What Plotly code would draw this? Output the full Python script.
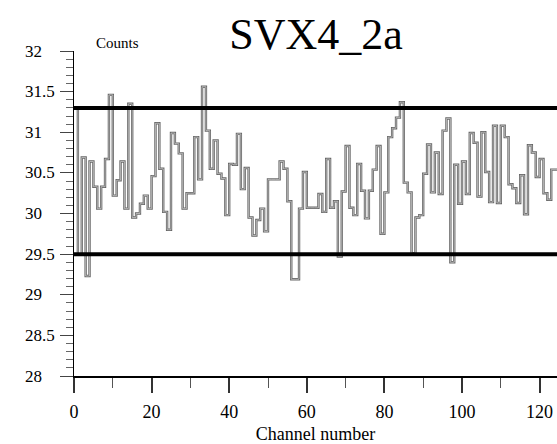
import numpy as np
import plotly.graph_objects as go

counts = [31.30, 29.50, 30.69, 29.23, 30.64, 30.33, 30.06, 30.33, 30.67, 31.46,
          30.22, 30.41, 30.64, 30.06, 31.35, 29.95, 30.00, 30.12, 30.22, 30.06,
          30.46, 31.11, 30.55, 30.02, 29.80, 30.99, 30.86, 30.74, 30.06, 30.25,
          30.25, 30.94, 30.42, 31.56, 31.02, 30.55, 30.90, 30.49, 30.43, 29.98,
          30.61, 30.60, 30.98, 30.30, 30.56, 29.95, 29.73, 29.92, 30.06, 29.78,
          30.42, 30.42, 30.42, 30.64, 30.55, 30.15, 29.19, 29.19, 30.06, 30.51,
          30.07, 30.07, 30.07, 30.24, 30.02, 30.67, 30.07, 30.15, 29.47, 30.27,
          30.83, 30.07, 29.98, 30.61, 30.28, 29.94, 30.28, 30.54, 30.83, 29.75,
          30.26, 30.94, 31.05, 31.18, 31.37, 30.38, 30.26, 29.51, 29.95, 29.98,
          30.49, 30.85, 30.26, 30.75, 30.24, 31.02, 31.17, 29.40, 30.60, 30.12,
          30.64, 30.24, 30.99, 30.87, 30.21, 31.00, 30.51, 30.14, 31.08, 30.13,
          31.08, 30.94, 30.36, 30.31, 30.13, 30.47, 29.99, 30.84, 30.75, 30.45,
          30.67, 30.25, 30.17, 30.54, 30.54]
channels = list(range(len(counts) + 1))
limit_lines = [29.5, 31.3]
y_tick_vals = [28, 28.5, 29, 29.5, 30, 30.5, 31, 31.5, 32]
y_tick_text = ["28", "28.5", "29", "29.5", "30", "30.5", "31", "31.5", "32"]
x_tick_vals = [0, 20, 40, 60, 80, 100, 120]

W, H = 557, 444
ML, MR, MT, MB = 74, 0, 51, 68
serif = "Liberation Serif"

ys = counts + [counts[-1]]
fig = go.Figure()
fig.add_trace(go.Scatter(x=channels, y=ys, mode="lines", line=dict(shape="hv", color="#666666", width=2.4),
                         hoverinfo="skip", showlegend=False))
fig.add_trace(go.Scatter(x=channels, y=ys, mode="lines", line=dict(shape="hv", color="#d4d4d4", width=0.7),
                         hoverinfo="skip", showlegend=False))

for v in limit_lines:
    fig.add_shape(type="line", xref="paper", yref="y", x0=0, x1=1, y0=v, y1=v,
                  line=dict(color="black", width=4))

pw = W - ML - MR
for v, t in zip(y_tick_vals, y_tick_text):
    fig.add_annotation(text=t, xref="paper", yref="y", x=(23 - ML) / pw, y=v, xanchor="left",
                       yanchor="middle", showarrow=False, font=dict(family=serif, size=17, color="black"))

fig.add_annotation(text="Counts", xref="paper", yref="paper", x=(94 - ML) / pw, y=1.025,
                   xanchor="left", yanchor="middle", showarrow=False,
                   font=dict(family=serif, size=15, color="black"))

fig.update_layout(
    width=W, height=H, margin=dict(l=ML, r=MR, t=MT, b=MB),
    paper_bgcolor="white", plot_bgcolor="white",
    font=dict(family=serif),
    title=dict(text="SVX4_2a", x=(316) / W, xanchor="center", y=1 - 34 / H, yanchor="middle",
               font=dict(family=serif, size=44, color="black")),
    xaxis=dict(range=[0, (W - ML) / 3.88], showgrid=False, zeroline=False,
               showline=True, linecolor="black", linewidth=1.5,
               ticks="outside", ticklen=15, tickwidth=1.5, tickcolor="#333",
               tickvals=x_tick_vals, tickfont=dict(family=serif, size=18, color="black"),
               ticklabelstandoff=4,
               minor=dict(dtick=10, tick0=0, ticks="outside", ticklen=10, tickwidth=1.2, tickcolor="#555"),
               title=dict(text="Channel number", font=dict(family=serif, size=18, color="black"), standoff=8)),
    yaxis=dict(range=[28, 32], showgrid=False, zeroline=False,
               showline=True, linecolor="black", linewidth=1.2,
               ticks="outside", ticklen=13, tickwidth=1.2, tickcolor="#444",
               tickvals=y_tick_vals, showticklabels=False,
               minor=dict(dtick=0.1, tick0=28, ticks="outside", ticklen=7, tickwidth=1, tickcolor="#666")),
)

fig.write_html("out.html")
